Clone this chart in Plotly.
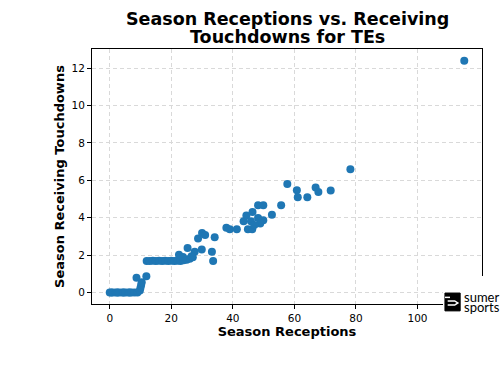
import plotly.graph_objects as go

receptions = [0, 0.5, 1, 2, 2.5, 3, 4, 4.5, 5, 6, 6.5, 7, 8, 9,
              9.8, 10, 10.2, 10.4, 8.7, 11.9,
              12, 13, 14, 15, 16, 17, 18, 19, 20, 21, 22, 23, 24, 25, 26, 27,
              22.5, 25.3, 27.6, 29.9, 33.2, 33.6, 26.6, 23.8,
              28.7, 30, 31, 34.1,
              37.9, 39, 41.3,
              43.5, 44.4, 44.9, 45.9, 46.3, 46.4, 48.2, 49.9, 48.2, 49.9, 48.9, 52.7, 55.7, 47.0,
              57.7, 60.8, 61.1, 64.2, 66.9, 67.8, 71.8,
              78.2, 115.2]
touchdowns = [0, 0, 0, 0, 0, 0, 0, 0, 0, 0, 0, 0, 0, 0,
              0.1, 0.25, 0.4, 0.55, 0.79, 0.86,
              1.68, 1.68, 1.7, 1.68, 1.7, 1.68, 1.7, 1.68, 1.7, 1.68, 1.7, 1.68, 1.72, 1.75, 1.8, 1.88,
              2.02, 2.38, 2.18, 2.29, 2.18, 1.68, 1.93, 1.89,
              2.88, 3.18, 3.07, 2.95,
              3.46, 3.38, 3.38,
              3.8, 4.11, 3.38, 3.8, 3.38, 4.3, 4.66, 4.66, 3.98, 3.86, 3.68, 4.16, 4.66, 3.6,
              5.8, 5.46, 5.09, 5.09, 5.61, 5.37, 5.45,
              6.59, 12.39]

x_ticks = [0, 20, 40, 60, 80, 100]
y_ticks = [0, 2, 4, 6, 8, 10, 12]
title_lines = ["Season Receptions vs. Receiving", "Touchdowns for TEs"]

font_family = "DejaVu Sans"

fig = go.Figure()
fig.add_trace(go.Scatter(
    x=receptions, y=touchdowns, mode="markers",
    marker=dict(color="#1f77b4", size=8, line=dict(width=0)),
    showlegend=False, hoverinfo="skip",
))

axis_common = dict(
    showline=True, linecolor="black", linewidth=1, mirror=True,
    ticks="outside", ticklen=4, tickwidth=1, tickcolor="black",
    showgrid=True, gridcolor="#d9d9d9", griddash="4px,3px", gridwidth=1,
    zeroline=False,
    tickfont=dict(family=font_family, size=10.5, color="black"),
)

fig.update_layout(
    width=500, height=375,
    margin=dict(l=92, r=18, t=49, b=71),
    paper_bgcolor="white", plot_bgcolor="white",
    xaxis=dict(range=[-5.76, 120.96], tickvals=x_ticks,
               title=dict(text="<b>Season Receptions</b>", standoff=4,
                          font=dict(family=font_family, size=13, color="black")),
               **axis_common),
    yaxis=dict(range=[-0.62, 13.02], tickvals=y_ticks,
               title=dict(text="<b>Season Receiving Touchdowns</b>", standoff=3,
                          font=dict(family=font_family, size=13, color="black")),
               **axis_common),
    shapes=[
        dict(type="rect", xref="paper", yref="paper", x0=0.9, x1=1.05,
             y0=-0.15, y1=0.11, fillcolor="white", line=dict(width=0), layer="above"),
        dict(type="rect", xref="paper", yref="paper", x0=0.905, x1=0.944,
             y0=-0.027, y1=0.043, fillcolor="black", line=dict(color="black", width=1),
             layer="above"),
        dict(type="path", xref="paper", yref="paper",
             path="M 0.912 0.012 L 0.930 0.012 L 0.938 0.004 L 0.930 -0.004 L 0.912 -0.004",
             line=dict(color="white", width=1.5), layer="above"),
        dict(type="line", xref="paper", yref="paper", x0=0.905, x1=0.918,
             y0=0.026, y1=0.026, line=dict(color="white", width=1.5), layer="above"),
    ],
    annotations=[
        dict(text="<b>" + title_lines[0] + "</b>", xref="paper", yref="paper",
             x=0.5, y=1.1176, xanchor="center", yanchor="middle", showarrow=False,
             font=dict(family=font_family, size=17.5, color="black")),
        dict(text="<b>" + title_lines[1] + "</b>", xref="paper", yref="paper",
             x=0.5, y=1.047, xanchor="center", yanchor="middle", showarrow=False,
             font=dict(family=font_family, size=17.5, color="black")),
        dict(text="sumer", xref="paper", yref="paper",
             x=0.949, y=0.026, xanchor="left", yanchor="middle", showarrow=False,
             font=dict(family="Lato", size=13, color="black")),
        dict(text="sports", xref="paper", yref="paper",
             x=0.949, y=-0.012, xanchor="left", yanchor="middle", showarrow=False,
             font=dict(family="Lato", size=13, color="black")),
    ],
)

fig.write_html("out.html")
